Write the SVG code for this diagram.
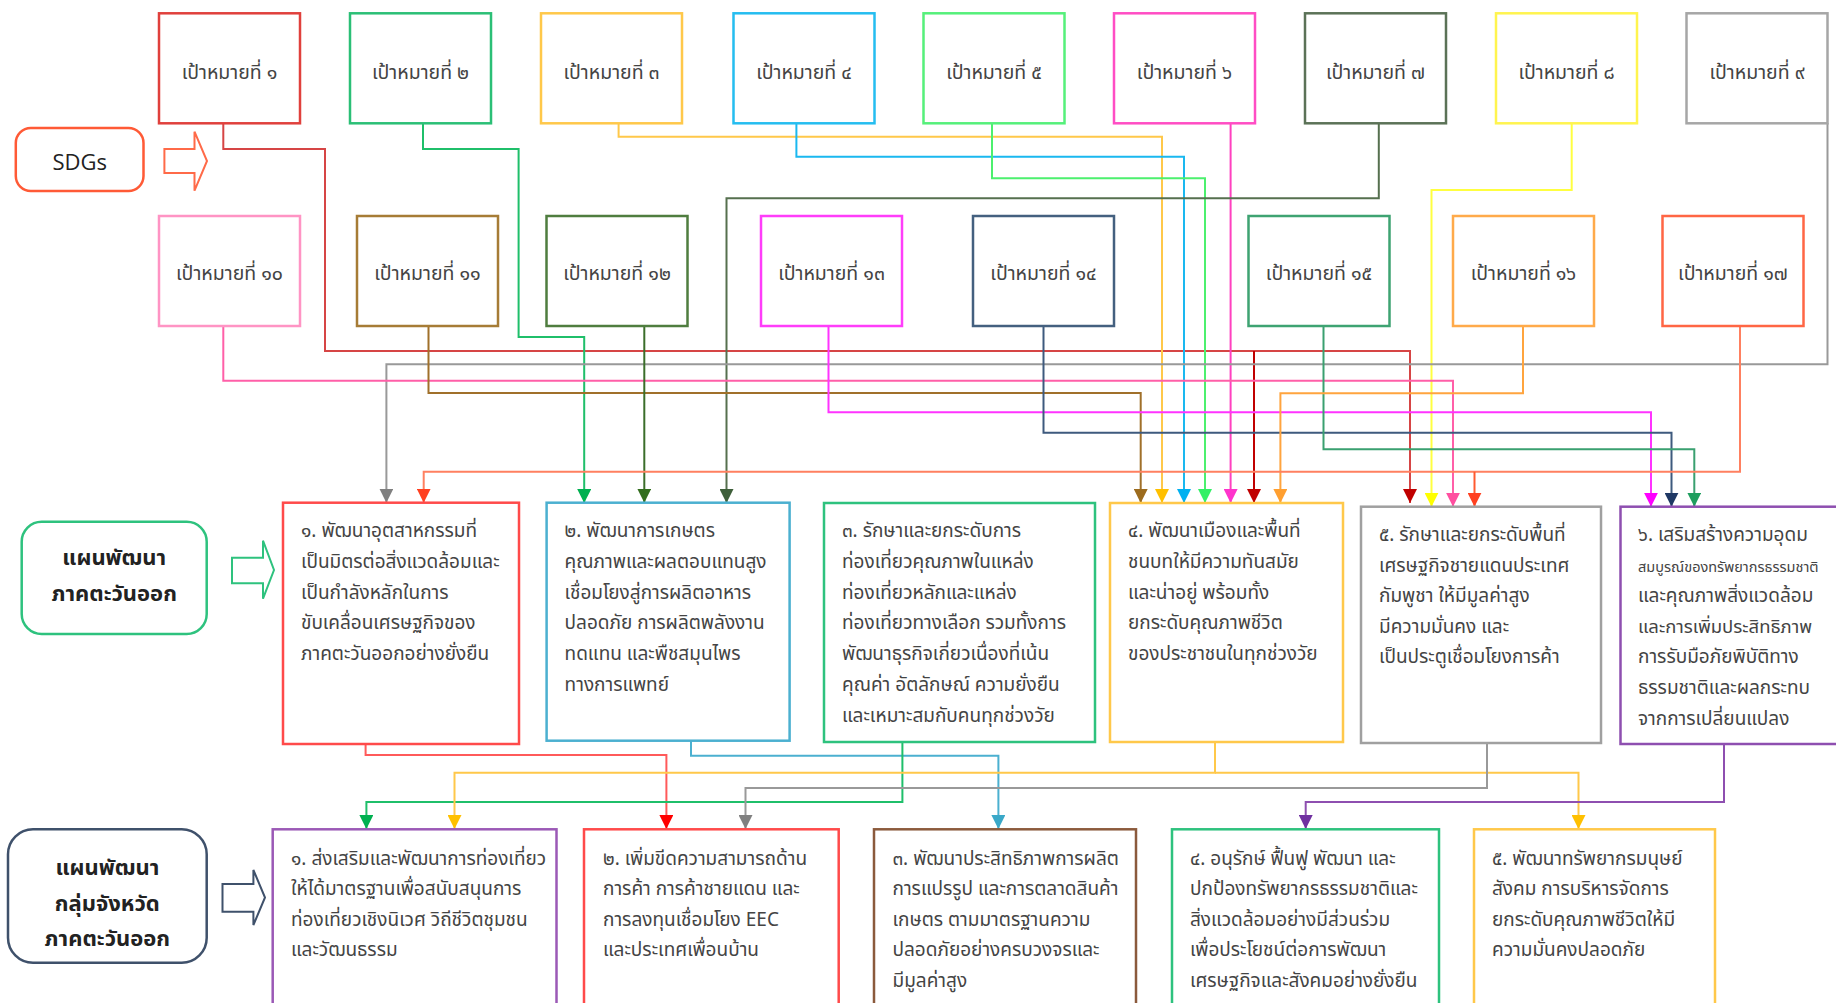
<svg xmlns="http://www.w3.org/2000/svg" width="1836" height="1003" viewBox="0 0 1836 1003">
<style>
.bx{fill:#fff;stroke-width:2.5}
.lbl{font-family:"Noto Sans Thai","Noto Sans","DejaVu Sans",sans-serif;font-size:19.5px;fill:#444;text-anchor:middle}
.t{font-family:"Noto Sans Thai","Noto Sans","DejaVu Sans",sans-serif;font-size:19px;fill:#444}
.hd{font-family:"Noto Sans Thai","Noto Sans","DejaVu Sans",sans-serif;font-size:22px;font-weight:bold;fill:#222;text-anchor:middle}
.sd{font-family:"Open Sans","Liberation Sans",sans-serif;font-size:22px;fill:#222;text-anchor:middle}
#connectors path{fill:none;stroke-width:2}
</style>
<defs>
<marker id="mR" markerWidth="14" markerHeight="14" refX="14" refY="7" orient="auto" markerUnits="userSpaceOnUse"><path d="M0,0 L14,7 L0,14 Z" fill="#c00000"/></marker>
<marker id="mG" markerWidth="14" markerHeight="14" refX="14" refY="7" orient="auto" markerUnits="userSpaceOnUse"><path d="M0,0 L14,7 L0,14 Z" fill="#00b050"/></marker>
<marker id="mY" markerWidth="14" markerHeight="14" refX="14" refY="7" orient="auto" markerUnits="userSpaceOnUse"><path d="M0,0 L14,7 L0,14 Z" fill="#ffc000"/></marker>
<marker id="mC" markerWidth="14" markerHeight="14" refX="14" refY="7" orient="auto" markerUnits="userSpaceOnUse"><path d="M0,0 L14,7 L0,14 Z" fill="#00b0f0"/></marker>
<marker id="mLG" markerWidth="14" markerHeight="14" refX="14" refY="7" orient="auto" markerUnits="userSpaceOnUse"><path d="M0,0 L14,7 L0,14 Z" fill="#33f066"/></marker>
<marker id="mPk" markerWidth="14" markerHeight="14" refX="14" refY="7" orient="auto" markerUnits="userSpaceOnUse"><path d="M0,0 L14,7 L0,14 Z" fill="#ff33cc"/></marker>
<marker id="mDG" markerWidth="14" markerHeight="14" refX="14" refY="7" orient="auto" markerUnits="userSpaceOnUse"><path d="M0,0 L14,7 L0,14 Z" fill="#3e5f3a"/></marker>
<marker id="mYY" markerWidth="14" markerHeight="14" refX="14" refY="7" orient="auto" markerUnits="userSpaceOnUse"><path d="M0,0 L14,7 L0,14 Z" fill="#ffff00"/></marker>
<marker id="mGr" markerWidth="14" markerHeight="14" refX="14" refY="7" orient="auto" markerUnits="userSpaceOnUse"><path d="M0,0 L14,7 L0,14 Z" fill="#808080"/></marker>
<marker id="mP2" markerWidth="14" markerHeight="14" refX="14" refY="7" orient="auto" markerUnits="userSpaceOnUse"><path d="M0,0 L14,7 L0,14 Z" fill="#ff4fa0"/></marker>
<marker id="mBr" markerWidth="14" markerHeight="14" refX="14" refY="7" orient="auto" markerUnits="userSpaceOnUse"><path d="M0,0 L14,7 L0,14 Z" fill="#9c6b1e"/></marker>
<marker id="mDG2" markerWidth="14" markerHeight="14" refX="14" refY="7" orient="auto" markerUnits="userSpaceOnUse"><path d="M0,0 L14,7 L0,14 Z" fill="#336e1e"/></marker>
<marker id="mM" markerWidth="14" markerHeight="14" refX="14" refY="7" orient="auto" markerUnits="userSpaceOnUse"><path d="M0,0 L14,7 L0,14 Z" fill="#ff00ff"/></marker>
<marker id="mN" markerWidth="14" markerHeight="14" refX="14" refY="7" orient="auto" markerUnits="userSpaceOnUse"><path d="M0,0 L14,7 L0,14 Z" fill="#1f3864"/></marker>
<marker id="mT" markerWidth="14" markerHeight="14" refX="14" refY="7" orient="auto" markerUnits="userSpaceOnUse"><path d="M0,0 L14,7 L0,14 Z" fill="#1e9e5e"/></marker>
<marker id="mO" markerWidth="14" markerHeight="14" refX="14" refY="7" orient="auto" markerUnits="userSpaceOnUse"><path d="M0,0 L14,7 L0,14 Z" fill="#ff9f30"/></marker>
<marker id="mOR" markerWidth="14" markerHeight="14" refX="14" refY="7" orient="auto" markerUnits="userSpaceOnUse"><path d="M0,0 L14,7 L0,14 Z" fill="#ff4020"/></marker>
<marker id="mRR" markerWidth="14" markerHeight="14" refX="14" refY="7" orient="auto" markerUnits="userSpaceOnUse"><path d="M0,0 L14,7 L0,14 Z" fill="#ff0000"/></marker>
<marker id="mB" markerWidth="14" markerHeight="14" refX="14" refY="7" orient="auto" markerUnits="userSpaceOnUse"><path d="M0,0 L14,7 L0,14 Z" fill="#3aa8c8"/></marker>
<marker id="mPu" markerWidth="14" markerHeight="14" refX="14" refY="7" orient="auto" markerUnits="userSpaceOnUse"><path d="M0,0 L14,7 L0,14 Z" fill="#7030a0"/></marker>
</defs>
<rect width="1836" height="1003" fill="#fff"/>

<!-- Level labels -->
<g id="sdgs">
<rect x="15.8" y="128" width="127.7" height="63" rx="15" class="bx" stroke="#ff5a36"/>
<text x="79.7" y="170" class="sd">SDGs</text>
<path d="M164.4,149 H194.5 V131.7 L207,161 L194.5,190.7 V173 H164.4 Z" fill="#fff" stroke="#ff6a48" stroke-width="2"/>
</g>
<g id="region-plan">
<rect x="21.7" y="521.7" width="185" height="112.3" rx="20" class="bx" stroke="#2ec27e"/>
<text x="114.2" y="565" class="hd">แผนพัฒนา</text>
<text x="114.2" y="601" class="hd">ภาคตะวันออก</text>
<path d="M232,557.7 H263 V540.7 L274,570 L263,598.7 V583.3 H232 Z" fill="#fff" stroke="#2ec27e" stroke-width="2"/>
</g>
<g id="group-plan">
<rect x="8" y="829.3" width="198.7" height="133.4" rx="25" class="bx" stroke="#3f516b"/>
<text x="107.3" y="875" class="hd">แผนพัฒนา</text>
<text x="107.3" y="911" class="hd">กลุ่มจังหวัด</text>
<text x="107.3" y="946" class="hd">ภาคตะวันออก</text>
<path d="M222.5,884 H253.4 V870 L265,897.5 L253.4,925 V911.7 H222.5 Z" fill="#fff" stroke="#3f516b" stroke-width="2"/>
</g>

<!-- Connectors -->
<g id="connectors">
<path d="M223.3,123 V149 H325 V351 H1410 V503" stroke="#d64545" marker-end="url(#mR)"/>
<path d="M1254,351 V503" stroke="#c00000" marker-end="url(#mR)"/>
<path d="M423,123 V149 H518.6 V337 H584.2 V503" stroke="#1fbf6a" marker-end="url(#mG)"/>
<path d="M618.6,123 V136.7 H1162 V503" stroke="#ffc84a" marker-end="url(#mY)"/>
<path d="M796.4,123 V156.7 H1184 V503" stroke="#1ab8f0" marker-end="url(#mC)"/>
<path d="M992,123 V178.3 H1205 V503" stroke="#4cf06e" marker-end="url(#mLG)"/>
<path d="M1230.6,123 V503" stroke="#ff40c0" marker-end="url(#mPk)"/>
<path d="M1378.8,123 V198.3 H726.5 V503" stroke="#56704f" marker-end="url(#mDG)"/>
<path d="M1571.7,123 V190 H1431.5 V506.7" stroke="#ffff40" marker-end="url(#mYY)"/>
<path d="M1827.5,123 V364.3 H386.4 V502.7" stroke="#999999" marker-end="url(#mGr)"/>
<path d="M223.3,326 V380.7 H1453 V506.7" stroke="#ff5fa8" marker-end="url(#mP2)"/>
<path d="M428.5,326 V393 H1140.7 V503" stroke="#a0702a" marker-end="url(#mBr)"/>
<path d="M644.3,326 V502.7" stroke="#3b6e2a" marker-end="url(#mDG2)"/>
<path d="M828.5,326 V412.3 H1651 V506.7" stroke="#ff33ff" marker-end="url(#mM)"/>
<path d="M1043.5,326 V432.7 H1671.5 V506.7" stroke="#3e5a7e" marker-end="url(#mN)"/>
<path d="M1323.5,326 V449.3 H1694.3 V506.7" stroke="#3aa070" marker-end="url(#mT)"/>
<path d="M1523,326 V393.3 H1280.4 V503" stroke="#ffa43e" marker-end="url(#mO)"/>
<path d="M1740,326 V471.7 H423.7 V502.7" stroke="#ff8060" marker-end="url(#mOR)"/>
<path d="M1474.5,471.7 V506.7" stroke="#ff5a30" marker-end="url(#mOR)"/>

<path d="M365.6,744 V755 H666.4 V829" stroke="#ff5a5a" marker-end="url(#mRR)"/>
<path d="M691,740.7 V755.7 H998.4 V829" stroke="#4bb0d0" marker-end="url(#mB)"/>
<path d="M902.4,742 V802 H366.4 V829" stroke="#1fbf6a" marker-end="url(#mG)"/>
<path d="M1215,742 V772.7 H454.5 V829" stroke="#ffc84a" marker-end="url(#mY)"/>
<path d="M1215,772.7 H1578.5 V829" stroke="#ffc84a" marker-end="url(#mY)"/>
<path d="M1487,743 V788 H745.5 V829" stroke="#999999" marker-end="url(#mGr)"/>
<path d="M1724,744 V802 H1305.7 V829" stroke="#8e4fb0" marker-end="url(#mPu)"/>
</g>

<!-- SDG goal nodes -->
<g id="goal1"><rect x="159" y="13.3" width="141" height="110" class="bx" stroke="#e0403c"/><text x="229.5" y="79" class="lbl">เป้าหมายที่ ๑</text></g>
<g id="goal2"><rect x="350" y="13.3" width="141" height="110" class="bx" stroke="#2bbf76"/><text x="420.5" y="79" class="lbl">เป้าหมายที่ ๒</text></g>
<g id="goal3"><rect x="541" y="13.3" width="141" height="110" class="bx" stroke="#ffc84a"/><text x="611.5" y="79" class="lbl">เป้าหมายที่ ๓</text></g>
<g id="goal4"><rect x="733.5" y="13.3" width="141" height="110" class="bx" stroke="#25bdf0"/><text x="804" y="79" class="lbl">เป้าหมายที่ ๔</text></g>
<g id="goal5"><rect x="923.5" y="13.3" width="141" height="110" class="bx" stroke="#55f07a"/><text x="994" y="79" class="lbl">เป้าหมายที่ ๕</text></g>
<g id="goal6"><rect x="1114" y="13.3" width="141" height="110" class="bx" stroke="#ff4dc4"/><text x="1184.5" y="79" class="lbl">เป้าหมายที่ ๖</text></g>
<g id="goal7"><rect x="1305" y="13.3" width="141" height="110" class="bx" stroke="#5b7257"/><text x="1375.5" y="79" class="lbl">เป้าหมายที่ ๗</text></g>
<g id="goal8"><rect x="1496" y="13.3" width="141" height="110" class="bx" stroke="#fff44f"/><text x="1566.5" y="79" class="lbl">เป้าหมายที่ ๘</text></g>
<g id="goal9"><rect x="1686.5" y="13.3" width="141" height="110" class="bx" stroke="#a6a6a6"/><text x="1757" y="79" class="lbl">เป้าหมายที่ ๙</text></g>
<g id="goal10"><rect x="159" y="216" width="141" height="110" class="bx" stroke="#ff94c4"/><text x="229.5" y="280" class="lbl">เป้าหมายที่ ๑๐</text></g>
<g id="goal11"><rect x="357" y="216" width="141" height="110" class="bx" stroke="#a67c36"/><text x="427.5" y="280" class="lbl">เป้าหมายที่ ๑๑</text></g>
<g id="goal12"><rect x="546.5" y="216" width="141" height="110" class="bx" stroke="#4f7d3f"/><text x="617" y="280" class="lbl">เป้าหมายที่ ๑๒</text></g>
<g id="goal13"><rect x="761" y="216" width="141" height="110" class="bx" stroke="#ff3dfa"/><text x="831.5" y="280" class="lbl">เป้าหมายที่ ๑๓</text></g>
<g id="goal14"><rect x="973" y="216" width="141" height="110" class="bx" stroke="#44607f"/><text x="1043.5" y="280" class="lbl">เป้าหมายที่ ๑๔</text></g>
<g id="goal15"><rect x="1248.5" y="216" width="141" height="110" class="bx" stroke="#3ea372"/><text x="1319" y="280" class="lbl">เป้าหมายที่ ๑๕</text></g>
<g id="goal16"><rect x="1453" y="216" width="141" height="110" class="bx" stroke="#ffaa4a"/><text x="1523.5" y="280" class="lbl">เป้าหมายที่ ๑๖</text></g>
<g id="goal17"><rect x="1662.5" y="216" width="141" height="110" class="bx" stroke="#ff6644"/><text x="1733" y="280" class="lbl">เป้าหมายที่ ๑๗</text></g>

<!-- Regional plan nodes -->
<g id="reg1"><rect x="283" y="502.7" width="236" height="241.3" class="bx" stroke="#ff4a4a"/>
<text class="t" x="301" y="537">๑. พัฒนาอุตสาหกรรมที่</text>
<text class="t" x="301" y="567.8">เป็นมิตรต่อสิ่งแวดล้อมและ</text>
<text class="t" x="301" y="598.6">เป็นกำลังหลักในการ</text>
<text class="t" x="301" y="629.4">ขับเคลื่อนเศรษฐกิจของ</text>
<text class="t" x="301" y="660.2">ภาคตะวันออกอย่างยั่งยืน</text></g>
<g id="reg2"><rect x="546.6" y="502.7" width="243" height="238" class="bx" stroke="#4bb0d0"/>
<text class="t" x="564.6" y="537">๒. พัฒนาการเกษตร</text>
<text class="t" x="564.6" y="567.8">คุณภาพและผลตอบแทนสูง</text>
<text class="t" x="564.6" y="598.6">เชื่อมโยงสู่การผลิตอาหาร</text>
<text class="t" x="564.6" y="629.4">ปลอดภัย การผลิตพลังงาน</text>
<text class="t" x="564.6" y="660.2">ทดแทน และพืชสมุนไพร</text>
<text class="t" x="564.6" y="691">ทางการแพทย์</text></g>
<g id="reg3"><rect x="824" y="503" width="271" height="239" class="bx" stroke="#2ec27e"/>
<text class="t" x="842" y="537">๓. รักษาและยกระดับการ</text>
<text class="t" x="842" y="567.8">ท่องเที่ยวคุณภาพในแหล่ง</text>
<text class="t" x="842" y="598.6">ท่องเที่ยวหลักและแหล่ง</text>
<text class="t" x="842" y="629.4">ท่องเที่ยวทางเลือก รวมทั้งการ</text>
<text class="t" x="842" y="660.2">พัฒนาธุรกิจเกี่ยวเนื่องที่เน้น</text>
<text class="t" x="842" y="691">คุณค่า อัตลักษณ์ ความยั่งยืน</text>
<text class="t" x="842" y="721.8">และเหมาะสมกับคนทุกช่วงวัย</text></g>
<g id="reg4"><rect x="1110" y="503" width="233" height="239" class="bx" stroke="#ffc84a"/>
<text class="t" x="1128" y="537">๔. พัฒนาเมืองและพื้นที่</text>
<text class="t" x="1128" y="567.8">ชนบทให้มีความทันสมัย</text>
<text class="t" x="1128" y="598.6">และน่าอยู่ พร้อมทั้ง</text>
<text class="t" x="1128" y="629.4">ยกระดับคุณภาพชีวิต</text>
<text class="t" x="1128" y="660.2">ของประชาชนในทุกช่วงวัย</text></g>
<g id="reg5"><rect x="1361" y="506.7" width="240" height="236.3" class="bx" stroke="#a0a0a0"/>
<text class="t" x="1379" y="541">๕. รักษาและยกระดับพื้นที่</text>
<text class="t" x="1379" y="571.6">เศรษฐกิจชายแดนประเทศ</text>
<text class="t" x="1379" y="602.2">กัมพูชา ให้มีมูลค่าสูง</text>
<text class="t" x="1379" y="632.8">มีความมั่นคง และ</text>
<text class="t" x="1379" y="663.4">เป็นประตูเชื่อมโยงการค้า</text></g>
<g id="reg6"><rect x="1620.5" y="506.7" width="260" height="237.3" class="bx" stroke="#8e4fb0"/>
<text class="t" x="1638" y="541">๖. เสริมสร้างความอุดม</text>
<text class="t" x="1638" y="571.6" style="font-size:14.5px">สมบูรณ์ของทรัพยากรธรรมชาติ</text>
<text class="t" x="1638" y="602.2">และคุณภาพสิ่งแวดล้อม</text>
<text class="t" x="1638" y="632.8" style="font-size:18.5px">และการเพิ่มประสิทธิภาพ</text>
<text class="t" x="1638" y="663.4">การรับมือภัยพิบัติทาง</text>
<text class="t" x="1638" y="694">ธรรมชาติและผลกระทบ</text>
<text class="t" x="1638" y="724.6">จากการเปลี่ยนแปลง</text></g>

<!-- Provincial group plan nodes -->
<g id="grp1"><rect x="272.7" y="829.3" width="283.8" height="200" class="bx" stroke="#9b59b6"/>
<text class="t" x="291" y="865">๑. ส่งเสริมและพัฒนาการท่องเที่ยว</text>
<text class="t" x="291" y="895.4">ให้ได้มาตรฐานเพื่อสนับสนุนการ</text>
<text class="t" x="291" y="925.8">ท่องเที่ยวเชิงนิเวศ วิถีชีวิตชุมชน</text>
<text class="t" x="291" y="956.2">และวัฒนธรรม</text></g>
<g id="grp2"><rect x="584" y="829.3" width="254.7" height="200" class="bx" stroke="#ff4a4a"/>
<text class="t" x="603" y="865">๒. เพิ่มขีดความสามารถด้าน</text>
<text class="t" x="603" y="895.4">การค้า การค้าชายแดน และ</text>
<text class="t" x="603" y="925.8">การลงทุนเชื่อมโยง EEC</text>
<text class="t" x="603" y="956.2">และประเทศเพื่อนบ้าน</text></g>
<g id="grp3"><rect x="874" y="829.3" width="262" height="200" class="bx" stroke="#8b5a3c"/>
<text class="t" x="892.5" y="865">๓. พัฒนาประสิทธิภาพการผลิต</text>
<text class="t" x="892.5" y="895.4">การแปรรูป และการตลาดสินค้า</text>
<text class="t" x="892.5" y="925.8">เกษตร ตามมาตรฐานความ</text>
<text class="t" x="892.5" y="956.2">ปลอดภัยอย่างครบวงจรและ</text>
<text class="t" x="892.5" y="986.6">มีมูลค่าสูง</text></g>
<g id="grp4"><rect x="1172" y="829.3" width="267" height="200" class="bx" stroke="#2ec27e"/>
<text class="t" x="1190" y="865">๔. อนุรักษ์ ฟื้นฟู พัฒนา และ</text>
<text class="t" x="1190" y="895.4">ปกป้องทรัพยากรธรรมชาติและ</text>
<text class="t" x="1190" y="925.8">สิ่งแวดล้อมอย่างมีส่วนร่วม</text>
<text class="t" x="1190" y="956.2">เพื่อประโยชน์ต่อการพัฒนา</text>
<text class="t" x="1190" y="986.6">เศรษฐกิจและสังคมอย่างยั่งยืน</text></g>
<g id="grp5"><rect x="1474" y="829.3" width="241" height="200" class="bx" stroke="#ffc84a"/>
<text class="t" x="1492" y="865">๕. พัฒนาทรัพยากรมนุษย์</text>
<text class="t" x="1492" y="895.4">สังคม การบริหารจัดการ</text>
<text class="t" x="1492" y="925.8">ยกระดับคุณภาพชีวิตให้มี</text>
<text class="t" x="1492" y="956.2">ความมั่นคงปลอดภัย</text></g>
</svg>
